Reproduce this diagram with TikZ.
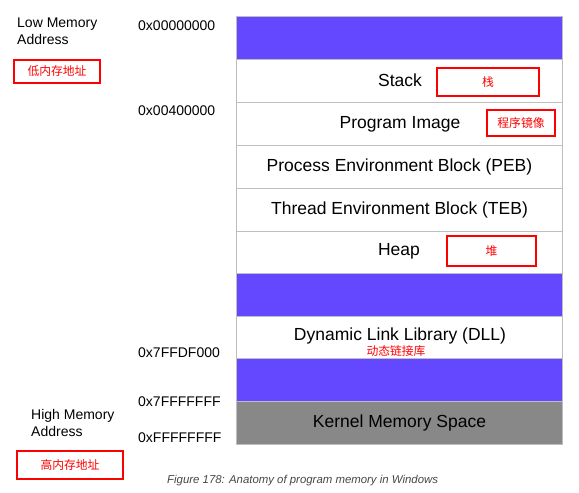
\documentclass[tikz,border=0pt]{standalone}
\usepackage{fontspec}
\setmainfont{Liberation Sans}
\newfontfamily\cjk{Noto Sans CJK SC}
\definecolor{memblue}{RGB}{100,72,255}
\definecolor{kgray}{RGB}{136,136,136}
\definecolor{edgegray}{RGB}{190,190,190}
\definecolor{capgray}{RGB}{70,70,70}
\begin{document}
\begin{tikzpicture}[x=1pt,y=-1pt,
  seg/.style={draw=edgegray,line width=1pt,minimum width=326pt,minimum height=42.8pt,inner sep=0pt,anchor=north west,font=\fontsize{17.5}{20}\selectfont},
  free/.style={seg,fill=memblue},
  redbox/.style={draw=red,line width=1.6pt,inner sep=0pt,text=red,font=\cjk\fontsize{11.8}{13}\selectfont},
  addr/.style={anchor=west,inner sep=0pt,font=\fontsize{14}{16}\selectfont},
  side/.style={anchor=north west,inner sep=0pt,align=left,font=\fontsize{14}{17}\selectfont},
  lbl/.style={inner sep=0pt,font=\fontsize{17.5}{20}\selectfont}]
\useasboundingbox (0,0) rectangle (579,493);
\node[free] (f1) at (236,16) {};
\node[seg] (stack) at (236,59) {};
\node[seg] (img) at (236,102) {};
\node[seg] (peb) at (236,145) {Process Environment Block (PEB)};
\node[seg] (teb) at (236,188) {Thread Environment Block (TEB)};
\node[seg] (heap) at (236,231) {};
\node[free] (f2) at (236,273) {};
\node[seg] (dll) at (236,316) {};
\node[free] (f3) at (236,358) {};
\node[seg,fill=kgray] (kern) at (236,401) {Kernel Memory Space};
\node[lbl] (tstack) at (400,80) {Stack};
\node[lbl] (timg) at (400,124) {Program Image};
\node[lbl] (theap) at (399,251) {Heap};
\node[lbl] (tdllen) at (400,335.5) {Dynamic Link Library (DLL)};
\node[redbox,minimum width=102pt,minimum height=28pt] (rstack) at (488,82) {栈};
\node[redbox,minimum width=68pt,minimum height=26pt] (rimg) at (521,123) {程序镜像};
\node[redbox,minimum width=89pt,minimum height=30pt] (rheap) at (491.5,251) {堆};
\node[redbox,minimum width=86pt,minimum height=23pt] (rlow) at (57,71.5) {低内存地址};
\node[redbox,minimum width=106pt,minimum height=28pt] (rhigh) at (70,465) {高内存地址};
\node[inner sep=0pt,text=red,font=\cjk\fontsize{11.8}{13}\selectfont] (tdll) at (396,351.5) {动态链接库};
\node[side] (low) at (17,18) {Low Memory\\Address};
\node[side] (high) at (31,409) {High Memory\\Address};
\node[addr] (a1) at (138,26) {0x00000000};
\node[addr] (a2) at (138,111) {0x00400000};
\node[addr] (a3) at (138,353) {0x7FFDF000};
\node[addr] (a4) at (138,402) {0x7FFFFFFF};
\node[addr] (a5) at (138,438) {0xFFFFFFFF};
\node[anchor=west,inner sep=0pt,text=capgray,font=\itshape\fontsize{11.4}{13}\selectfont] (cap) at (167,481) {Figure 178: Anatomy of program memory in Windows};
\end{tikzpicture}
\end{document}
